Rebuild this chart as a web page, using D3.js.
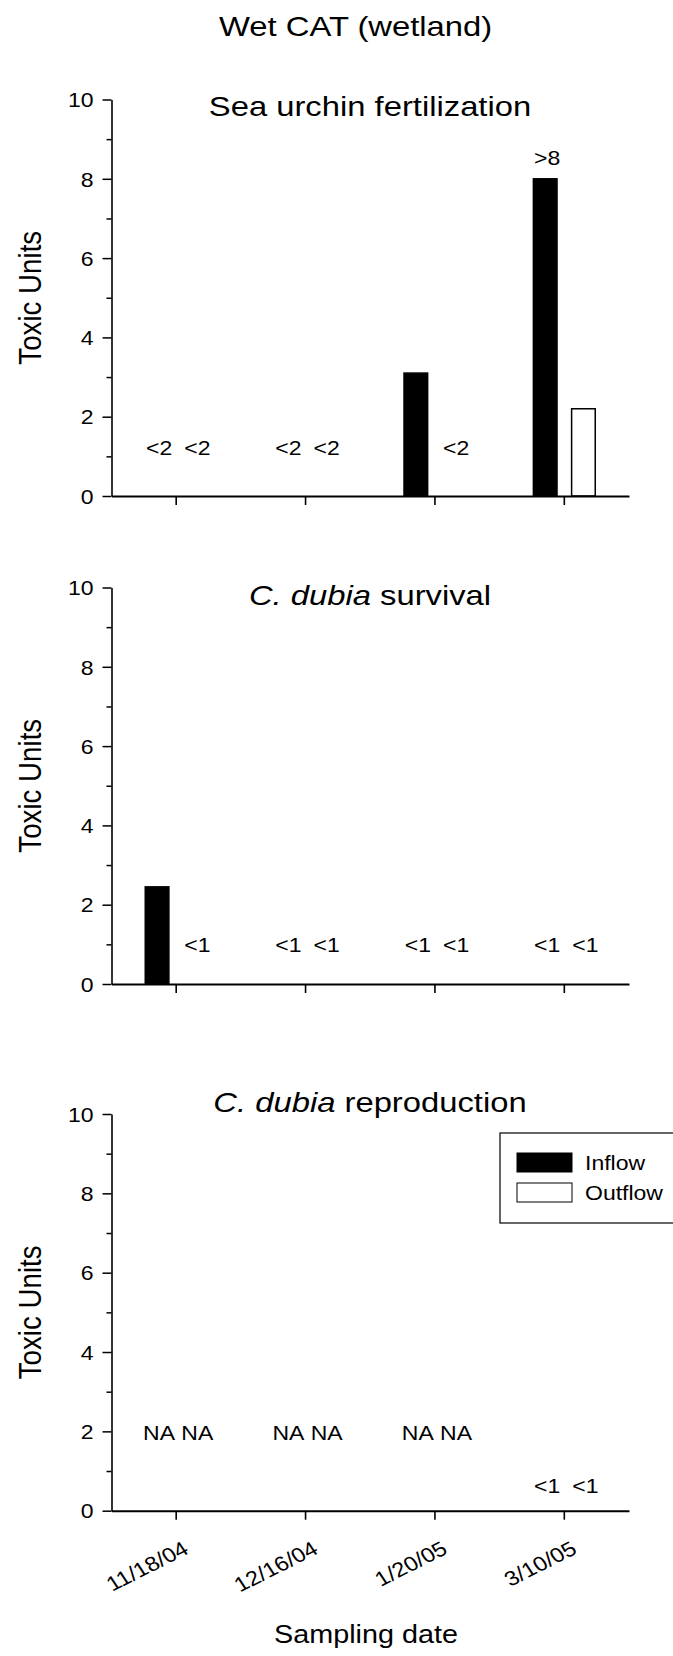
<!DOCTYPE html>
<html>
<head>
<meta charset="utf-8">
<script src="https://cdn.jsdelivr.net/npm/d3@7"></script>
<style>
  html, body { margin: 0; padding: 0; background: #fff; }
  svg { display: block; }
  text { font-family: Arial, "Liberation Sans", Helvetica, sans-serif; fill: #000; }
</style>
</head>
<body>
<svg id="chart" width="673" height="1656"></svg>
<script>
// Sampling dates and flow series
const dates = ["11/18/04", "12/16/04", "1/20/05", "3/10/05"];
const series = ["Inflow", "Outflow"];
const yTicks = [0, 2, 4, 6, 8, 10];
const yMinorTicks = [1, 3, 5, 7, 9];

// Sea urchin fertilization (toxic units)
const urchinInflow = [0, 0, 3.1, 8];
const urchinOutflow = [0, 0, 0, 2.2];
const urchinInflowNotes = ["<2", "<2", "", ">8"];
const urchinOutflowNotes = ["<2", "<2", "<2", ""];

// C. dubia survival (toxic units)
const survivalInflow = [2.45, 0, 0, 0];
const survivalOutflow = [0, 0, 0, 0];
const survivalInflowNotes = ["", "<1", "<1", "<1"];
const survivalOutflowNotes = ["<1", "<1", "<1", "<1"];

// C. dubia reproduction (toxic units; null = not analysed)
const reproInflow = [null, null, null, 0];
const reproOutflow = [null, null, null, 0];
const reproInflowNotes = ["NA", "NA", "NA", "<1"];
const reproOutflowNotes = ["NA", "NA", "NA", "<1"];

// ---- layout ----
const SX = 1.15;               // horizontal text stretch of the figure
const plotLeft = 111.5, plotRight = 629;
const svg = d3.select("#chart");

const panels = [
  { top: 99.5, bottom: 496, titleY: 116,
    title: [["Sea urchin fertilization", false]],
    inflow: urchinInflow, outflow: urchinOutflow,
    inNotes: urchinInflowNotes, outNotes: urchinOutflowNotes,
    noteLevel: { "<2": 1.03, "<1": 1.03, "NA": 1.8 } },
  { top: 587.5, bottom: 984, titleY: 605,
    title: [["C. dubia", true], [" survival", false]],
    inflow: survivalInflow, outflow: survivalOutflow,
    inNotes: survivalInflowNotes, outNotes: survivalOutflowNotes,
    noteLevel: { "<2": 0.81, "<1": 0.81, "NA": 1.8 } },
  { top: 1114, bottom: 1510.7, titleY: 1112,
    title: [["C. dubia", true], [" reproduction", false]],
    inflow: reproInflow, outflow: reproOutflow,
    inNotes: reproInflowNotes, outNotes: reproOutflowNotes,
    noteLevel: { "<2": 0.45, "<1": 0.45, "NA": 1.78 } }
];

const x0 = d3.scaleBand().domain(dates).range([plotLeft, plotRight]).paddingInner(0).paddingOuter(0);
const x1 = d3.scaleBand().domain(series).range([0, x0.bandwidth()])
  .paddingInner(0.382).paddingOuter(0.883);

// place a text element with the figure's horizontal stretch
function placeText(g, x, y, rot, txt, size, anchor) {
  const t = g.append("text")
    .attr("transform", `translate(${x},${y}) scale(${SX},1)` + (rot ? ` rotate(${rot})` : ""))
    .attr("text-anchor", anchor || "middle")
    .style("font-size", size + "px");
  if (typeof txt === "string") t.text(txt);
  else txt.forEach(([s, it]) => t.append("tspan").style("font-style", it ? "italic" : "normal").text(s));
  return t;
}

// overall title
placeText(svg, 355.6, 36, 0, "Wet CAT (wetland)", 28.5);

panels.forEach((p, pi) => {
  const g = svg.append("g");
  const y = d3.scaleLinear().domain([0, 10]).range([p.bottom, p.top]);

  // bars
  const rows = dates.map((d, i) => ({ date: d, vals: [
    { s: "Inflow", v: p.inflow[i], note: p.inNotes[i] },
    { s: "Outflow", v: p.outflow[i], note: p.outNotes[i] } ] }));

  const grp = g.selectAll("g.date").data(rows).join("g")
    .attr("transform", d => `translate(${x0(d.date)},0)`);

  grp.selectAll("rect").data(d => d.vals.filter(e => e.v != null && e.v > 0)).join("rect")
    .attr("x", e => x1(e.s))
    .attr("width", x1.bandwidth())
    .attr("y", e => y(e.v))
    .attr("height", e => y(0) - y(e.v))
    .attr("fill", e => e.s === "Inflow" ? "#000" : "#fff")
    .attr("stroke", "#000")
    .attr("stroke-width", 1.5);

  // value notes
  grp.each(function(d) {
    const gg = d3.select(this);
    d.vals.forEach(e => {
      if (!e.note) return;
      const lvl = e.note.startsWith(">") ? e.v + 0.34 : p.noteLevel[e.note];
      placeText(gg, x1(e.s) + x1.bandwidth() / 2 + 2, y(lvl), 0, e.note, 20);
    });
  });

  // y axis: major and minor ticks
  const yAx = g.append("g").attr("transform", `translate(${plotLeft},0)`)
    .call(d3.axisLeft(y).tickValues(yTicks).tickSize(9).tickSizeOuter(0).tickFormat(d3.format("d")));
  yAx.select(".domain").attr("stroke-width", 1.6);
  yAx.selectAll(".tick line").attr("stroke-width", 1.5);
  yAx.selectAll(".tick text")
    .attr("x", null).attr("dy", "0.36em")
    .attr("transform", `translate(-18,0) scale(${SX},1)`)
    .style("font-size", "20px").style("font-family", "Arial, 'Liberation Sans', sans-serif");
  const yMin = g.append("g").attr("transform", `translate(${plotLeft},0)`)
    .call(d3.axisLeft(y).tickValues(yMinorTicks).tickSize(5).tickSizeOuter(0).tickFormat(""));
  yMin.select(".domain").remove();
  yMin.selectAll(".tick line").attr("stroke-width", 1.5);

  // x axis
  const xAx = g.append("g").attr("transform", `translate(0,${p.bottom})`)
    .call(d3.axisBottom(x0).tickSize(9).tickSizeOuter(0).tickFormat(""));
  xAx.select(".domain").attr("stroke-width", 2);
  xAx.selectAll(".tick line").attr("stroke-width", 1.6);

  if (pi === panels.length - 1) {
    dates.forEach(d => {
      placeText(g, x0(d) + x0.bandwidth() / 2 + 14, p.bottom + 42, -30, d, 20.5, "end");
    });
  }

  // panel title and axis title
  placeText(g, 370, p.titleY, 0, p.title, 28.5);
  placeText(g, 41, (p.top + p.bottom) / 2, -90, "Toxic Units", 27.7);
});

// x axis title
placeText(svg, 366, 1643, 0, "Sampling date", 25);

// legend
const lg = svg.append("g");
lg.append("rect").attr("x", 500).attr("y", 1133).attr("width", 190).attr("height", 90)
  .attr("fill", "#fff").attr("stroke", "#000").attr("stroke-width", 1.2);
series.forEach((s, i) => {
  lg.append("rect").attr("x", 517).attr("y", 1153 + i * 30).attr("width", 55).attr("height", 19)
    .attr("fill", s === "Inflow" ? "#000" : "#fff").attr("stroke", "#000").attr("stroke-width", 1);
  placeText(lg, 585, 1170 + i * 30, 0, s, 20, "start");
});
</script>
</body>
</html>
